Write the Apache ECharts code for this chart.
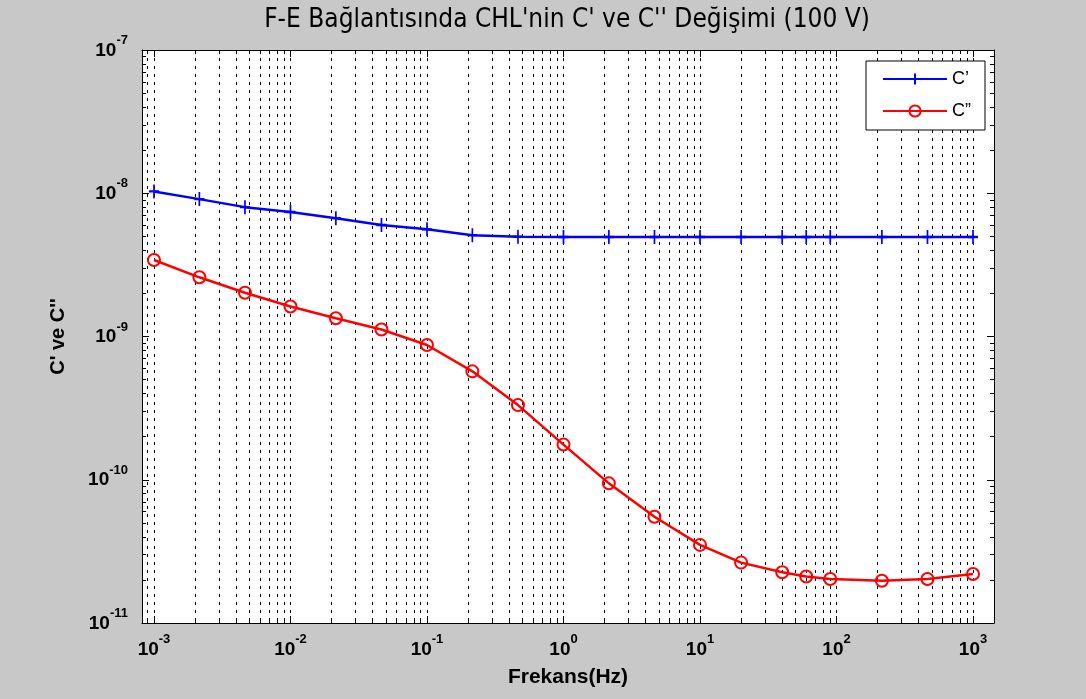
<!DOCTYPE html>
<html>
<head>
<meta charset="utf-8">
<script src="https://cdn.jsdelivr.net/npm/echarts@6/dist/echarts.min.js"></script>
<style>
html,body{margin:0;padding:0;background:#c8c8c8;}
#chart{width:1086px;height:699px;}
</style>
</head>
<body>
<div id="chart"></div>
<script>
// ---- data ----
const frequencies = [0.001, 0.00215, 0.00464, 0.01, 0.0215, 0.0464, 0.1, 0.215, 0.464, 1, 2.15, 4.64, 10, 20, 40, 60, 90, 215, 464, 1000];
const cPrime = [1.03e-8, 9.1e-9, 8.0e-9, 7.4e-9, 6.7e-9, 6.0e-9, 5.6e-9, 5.1e-9, 4.97e-9, 4.95e-9, 4.95e-9, 4.95e-9, 4.95e-9, 4.95e-9, 4.95e-9, 4.95e-9, 4.95e-9, 4.95e-9, 4.95e-9, 4.95e-9];
const cDoublePrime = [3.42e-9, 2.59e-9, 2.02e-9, 1.62e-9, 1.34e-9, 1.12e-9, 8.72e-10, 5.71e-10, 3.32e-10, 1.76e-10, 9.44e-11, 5.52e-11, 3.51e-11, 2.64e-11, 2.26e-11, 2.11e-11, 2.03e-11, 1.97e-11, 2.03e-11, 2.20e-11];
const xTickLabels = [1e-3, 1e-2, 1e-1, 1, 10, 100, 1000];
const yTickLabels = [1e-11, 1e-10, 1e-9, 1e-8, 1e-7];
const seriesNames = ['C\u2019', 'C\u201D'];

const xMin = 8.17e-4, xMax = 1425, yMin = 1e-11, yMax = 1e-7;

function minorValues(lo, hi, eLo, eHi) {
  const out = [];
  for (let e = eLo; e <= eHi; e++) {
    for (let k = 1; k <= 9; k++) {
      const v = parseFloat((k * Math.pow(10, e)).toPrecision(6));
      if (v >= lo * 0.999999 && v <= hi * 1.000001) out.push(v);
    }
  }
  return out;
}
const xAllTicks = minorValues(xMin, xMax, -4, 3);
const yAllTicks = minorValues(yMin, yMax, -11, -7);

const FONT = "'Liberation Sans', Arial, sans-serif";
function supLabel(v) {
  const e = Math.round(Math.log10(v));
  return '{b|10}{s|' + e + '}';
}
const richSup = {
  b: {fontSize: 19, fontWeight: 'bold', fontFamily: FONT, color: '#000', lineHeight: 26, verticalAlign: 'bottom'},
  s: {fontSize: 13, fontWeight: 'bold', fontFamily: FONT, color: '#000', lineHeight: 12, verticalAlign: 'top'}
};

const axisLineStyle = {show: true, lineStyle: {color: '#000', width: 1}};

const option = {
  backgroundColor: '#c8c8c8',
  animation: false,
  title: {
    text: "F-E Bağlantısında CHL'nin C' ve C'' Değişimi (100 V)",
    left: 562, top: 2, textAlign: 'center',
    textStyle: {fontFamily: "'Liberation Sans Narrow', 'DejaVu Sans Condensed', Arial, sans-serif", fontWeight: 'normal', fontSize: 26, color: '#000'}
  },
  legend: {
    orient: 'vertical',
    right: 101, top: 61,
    backgroundColor: '#fff',
    borderColor: '#000', borderWidth: 1,
    padding: [9, 14, 10, 16],
    itemWidth: 64, itemHeight: 14, itemGap: 14,
    textStyle: {fontFamily: FONT, fontSize: 18, color: '#000'},
    data: seriesNames
  },
  grid: {left: 142, right: 92, top: 50, bottom: 76, show: true, backgroundColor: '#fff', borderWidth: 0},
  xAxis: [
    {
      type: 'log', logBase: 10, min: xMin, max: xMax, position: 'bottom',
      name: 'Frekans(Hz)', nameLocation: 'middle', nameGap: 44,
      nameTextStyle: {fontFamily: FONT, fontWeight: 'bold', fontSize: 21, color: '#000'},
      axisLine: axisLineStyle,
      axisTick: {show: true, inside: true, length: 4, customValues: xAllTicks, lineStyle: {color: '#000'}},
      axisLabel: {show: true, margin: 10, customValues: xTickLabels, formatter: supLabel, rich: richSup},
      splitLine: {show: true, lineStyle: {color: '#000', width: 1, type: [3, 5]}}
    },
    {
      type: 'log', logBase: 10, min: xMin, max: xMax, position: 'top',
      axisLine: axisLineStyle,
      axisTick: {show: true, inside: true, length: 4, customValues: xAllTicks, lineStyle: {color: '#000'}},
      axisLabel: {show: false},
      splitLine: {show: false}
    },
    {
      type: 'log', logBase: 10, min: xMin, max: xMax, position: 'bottom',
      axisLine: {show: false},
      axisTick: {show: true, inside: true, length: 7, customValues: xTickLabels, lineStyle: {color: '#000'}},
      axisLabel: {show: false}, splitLine: {show: false}
    },
    {
      type: 'log', logBase: 10, min: xMin, max: xMax, position: 'top',
      axisLine: {show: false},
      axisTick: {show: true, inside: true, length: 7, customValues: xTickLabels, lineStyle: {color: '#000'}},
      axisLabel: {show: false}, splitLine: {show: false}
    }
  ],
  yAxis: [
    {
      type: 'log', logBase: 10, min: yMin, max: yMax, position: 'left',
      name: "C' ve C''", nameLocation: 'middle', nameGap: 74,
      nameTextStyle: {fontFamily: FONT, fontWeight: 'bold', fontSize: 20, color: '#000'},
      axisLine: axisLineStyle,
      axisTick: {show: true, inside: true, length: 4, customValues: yAllTicks, lineStyle: {color: '#000'}},
      axisLabel: {show: true, margin: 14, padding: [0, 0, 6, 0], customValues: yTickLabels, formatter: supLabel, rich: richSup},
      splitLine: {show: false}
    },
    {
      type: 'log', logBase: 10, min: yMin, max: yMax, position: 'right',
      axisLine: axisLineStyle,
      axisTick: {show: true, inside: true, length: 4, customValues: yAllTicks, lineStyle: {color: '#000'}},
      axisLabel: {show: false}, splitLine: {show: false}
    },
    {
      type: 'log', logBase: 10, min: yMin, max: yMax, position: 'left',
      axisLine: {show: false},
      axisTick: {show: true, inside: true, length: 7, customValues: yTickLabels, lineStyle: {color: '#000'}},
      axisLabel: {show: false}, splitLine: {show: false}
    },
    {
      type: 'log', logBase: 10, min: yMin, max: yMax, position: 'right',
      axisLine: {show: false},
      axisTick: {show: true, inside: true, length: 7, customValues: yTickLabels, lineStyle: {color: '#000'}},
      axisLabel: {show: false}, splitLine: {show: false}
    }
  ],
  series: [
    {
      name: seriesNames[0], type: 'line', xAxisIndex: 0, yAxisIndex: 0,
      data: frequencies.map((f, i) => [f, cPrime[i]]),
      symbol: 'path://M5,0L5,10M0,5L10,5', symbolSize: [10, 14],
      showAllSymbol: true,
      lineStyle: {color: '#0000ff', width: 2.5},
      itemStyle: {color: '#0000ff', borderColor: '#0000ff', borderWidth: 2}
    },
    {
      name: seriesNames[1], type: 'line', xAxisIndex: 0, yAxisIndex: 0,
      data: frequencies.map((f, i) => [f, cDoublePrime[i]]),
      symbol: 'circle', symbolSize: 12,
      showAllSymbol: true,
      lineStyle: {color: '#ff0000', width: 2.5},
      itemStyle: {color: 'rgba(255,255,255,0)', borderColor: '#ff0000', borderWidth: 2}
    }
  ]
};

const chart = echarts.init(document.getElementById('chart'), null, {renderer: 'canvas'});
chart.setOption(option);
</script>
</body>
</html>
